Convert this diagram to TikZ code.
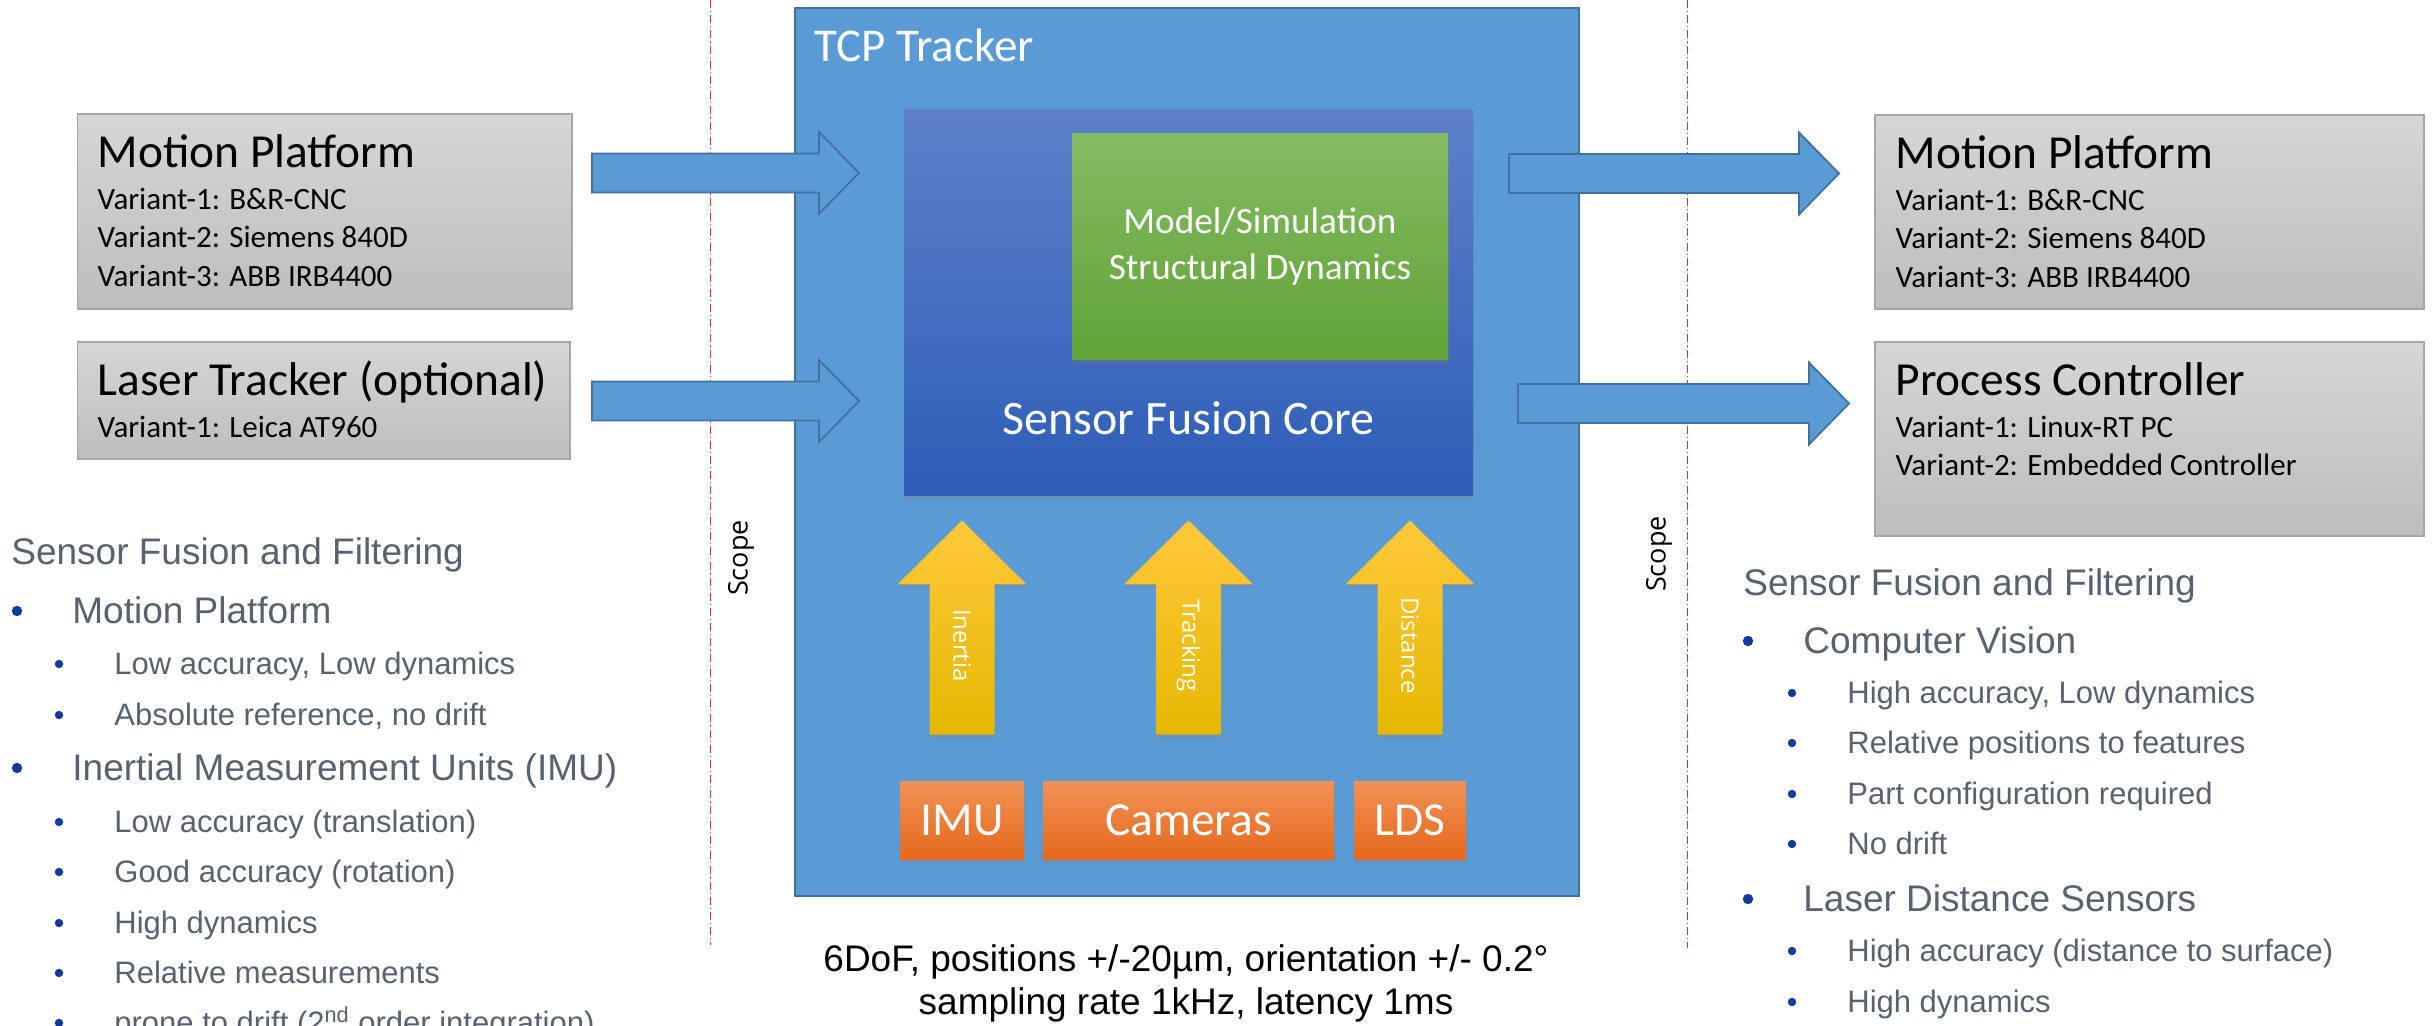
\documentclass[tikz,border=0pt]{standalone}
\usepackage{fontspec}
\setmainfont{Carlito}
\newfontfamily\listfont{Liberation Sans}
\newfontfamily\scopefont{Open Sans}
\usepackage{tikz}
\usetikzlibrary{calc,positioning,shadows}
\definecolor{tcpblue}{RGB}{91,155,213}
\definecolor{tcpedge}{RGB}{65,113,156}
\definecolor{coretop}{RGB}{94,128,201}
\definecolor{corebottom}{RGB}{45,93,183}
\definecolor{modeltop}{RGB}{133,187,99}
\definecolor{modelbottom}{RGB}{97,163,55}
\definecolor{feedtop}{RGB}{255,200,60}
\definecolor{feedbottom}{RGB}{229,184,0}
\definecolor{sensortop}{RGB}{241,146,87}
\definecolor{sensorbottom}{RGB}{229,104,27}
\definecolor{boxtop}{RGB}{214,214,214}
\definecolor{boxbottom}{RGB}{189,189,189}
\definecolor{boxedge}{RGB}{166,166,166}
\definecolor{scopered}{RGB}{222,52,52}
\definecolor{listgray}{RGB}{88,98,110}
\definecolor{bulletblue}{RGB}{18,58,158}

% fat block arrow from #1 to #2 (same height)
\newcommand{\flowarrow}[2]{%
  \draw[flowfill] ($(#1)+(0,-9.75)$) -- ($(#2)+(-20,-9.75)$) -- ($(#2)+(-20,-20.5)$) -- (#2)
    -- ($(#2)+(-20,20.5)$) -- ($(#2)+(-20,9.75)$) -- ($(#1)+(0,9.75)$) -- cycle;}
% upward arrow from sensor #1 towards the core, named #2, label #3
\newcommand{\feedarrow}[3]{%
  \coordinate (#2t) at ($(#1.north)+(0,-23)$);
  \coordinate (#2h) at ($(#2t |- core.south)+(0,12)$);
  \path[feedfill] ($(#2t)+(-16.25,0)$) -- ($(#2h)+(-16.25,32)$) -- ($(#2h)+(-32.25,32)$) -- (#2h)
    -- ($(#2h)+(32.25,32)$) -- ($(#2h)+(16.25,32)$) -- ($(#2t)+(16.25,0)$) -- cycle;
  \node[feedlabel] (#2) at ($(#2h)+(0,62.5)$) {#3};}

\begin{document}
\begin{tikzpicture}[x=1pt,y=-1pt,
  softshadow/.style={drop shadow={shadow xshift=0.4pt,shadow yshift=-1.8pt,opacity=0.3}},
  graybox/.style={draw=boxedge,line width=0.8pt,top color=boxtop,bottom color=boxbottom,inner sep=0pt},
  boxtitle/.style={anchor=base west,inner sep=0pt,font=\fontsize{23.7}{28}\selectfont},
  variant/.style={anchor=base west,inner sep=0pt,font=\fontsize{15.5}{19}\selectfont},
  flowfill/.style={fill=tcpblue,draw=tcpedge,line width=0.9pt},
  feedfill/.style={top color=feedtop,bottom color=feedbottom,softshadow},
  feedlabel/.style={rotate=-90,text=white,inner sep=0pt,font=\scopefont\fontsize{12}{14}\selectfont},
  sensor/.style={top color=sensortop,bottom color=sensorbottom,softshadow,text=white,
    minimum height=39pt,inner sep=0pt,font=\fontsize{23.7}{28}\selectfont},
  scopeline/.style={draw=scopered,line width=0.5pt,dash pattern=on 4pt off 1.5pt on 0.6pt off 1.5pt},
  scopelabel/.style={rotate=90,inner sep=0pt,font=\scopefont\fontsize{13.5}{16}\selectfont},
  listhead/.style={anchor=base west,inner sep=0pt,text=listgray,font=\listfont\fontsize{18.5}{22}\selectfont},
  topic/.style={listhead},
  detail/.style={anchor=base west,inner sep=0pt,text=listgray,font=\listfont\fontsize{15.5}{19}\selectfont}]
  \useasboundingbox (0,0) rectangle (1216,513);

  % scope borders
  \coordinate (scopeLa) at (355,0);   \coordinate (scopeLb) at (355,472.5);
  \coordinate (scopeRa) at (843.5,0); \coordinate (scopeRb) at (843.5,474);
  \draw[scopeline] (scopeLa) -- (scopeLb);
  \draw[scopeline] (scopeRa) -- (scopeRb);
  \node[scopelabel] (scopeL) at (370.5,279) {Scope};
  \node[scopelabel] (scopeR) at (829.5,277) {Scope};

  % inputs
  \node[graybox,minimum width=247.25pt,minimum height=97.5pt] (mpin) at (162.4,105.75) {};
  \node[boxtitle] (mpinT) at ($(mpin.north west)+(10.25,27)$) {Motion Platform};
  \node[variant] (mpin1) at ($(mpin.north west)+(10.25,48)$) {Variant-1: B\&R-CNC};
  \node[variant] (mpin2) at ($(mpin.north west)+(10.25,67.25)$) {Variant-2: Siemens 840D};
  \node[variant] (mpin3) at ($(mpin.north west)+(10.25,86.5)$) {Variant-3: ABB IRB4400};
  \node[graybox,minimum width=246.25pt,minimum height=58.5pt] (ltin) at (161.9,200.25) {};
  \node[boxtitle] (ltinT) at ($(ltin.north west)+(10.25,27)$) {Laser Tracker (optional)};
  \node[variant] (ltin1) at ($(ltin.north west)+(10.25,48)$) {Variant-1: Leica AT960};

  % outputs
  \node[graybox,minimum width=274.5pt,minimum height=97pt] (mpout) at (1074.75,106) {};
  \node[boxtitle] (mpoutT) at ($(mpout.north west)+(10.5,27)$) {Motion Platform};
  \node[variant] (mpout1) at ($(mpout.north west)+(10.5,48)$) {Variant-1: B\&R-CNC};
  \node[variant] (mpout2) at ($(mpout.north west)+(10.5,67.25)$) {Variant-2: Siemens 840D};
  \node[variant] (mpout3) at ($(mpout.north west)+(10.5,86.5)$) {Variant-3: ABB IRB4400};
  \node[graybox,minimum width=274.5pt,minimum height=97pt] (pcout) at (1074.75,219.5) {};
  \node[boxtitle] (pcoutT) at ($(pcout.north west)+(10.5,27)$) {Process Controller};
  \node[variant] (pcout1) at ($(pcout.north west)+(10.5,48)$) {Variant-1: Linux-RT PC};
  \node[variant] (pcout2) at ($(pcout.north west)+(10.5,67.25)$) {Variant-2: Embedded Controller};

  % tracker
  \node[fill=tcpblue,draw=tcpedge,line width=0.8pt,minimum width=392pt,minimum height=444pt] (tcp) at (593.5,226) {};
  \node[anchor=base west,inner sep=0pt,text=white,font=\fontsize{23.5}{28}\selectfont] (tcpT)
    at ($(tcp.north west)+(10,27.25)$) {TCP Tracker};
  \node[top color=coretop,bottom color=corebottom,softshadow,minimum width=284.5pt,minimum height=193pt] (core)
    at (594.25,151.5) {};
  \node[top color=modeltop,bottom color=modelbottom,softshadow,minimum width=188pt,minimum height=113pt,
    text=white,align=center,font=\fontsize{18.6}{23}\selectfont] (model) at (630,123.5)
    {Model/Simulation\\Structural Dynamics};
  \node[anchor=base,inner sep=0pt,text=white,font=\fontsize{24}{28}\selectfont] (coreT)
    at ($(core.south)+(0,-31)$) {Sensor Fusion Core};

  % block arrows
  \coordinate (mpinA) at (296,86.5);    \coordinate (mpinB) at (429.5,86.5);
  \coordinate (ltinA) at (296,200.5);   \coordinate (ltinB) at (429.5,200.5);
  \coordinate (mpoutA) at (754.5,86.75); \coordinate (mpoutB) at (919.5,86.75);
  \coordinate (pcoutA) at (759,201.75);  \coordinate (pcoutB) at (924.5,201.75);
  \flowarrow{mpinA}{mpinB}
  \flowarrow{ltinA}{ltinB}
  \flowarrow{mpoutA}{mpoutB}
  \flowarrow{pcoutA}{pcoutB}

  % sensors
  \node[sensor,minimum width=62pt] (imu) at (481,410) {IMU};
  \node[sensor,minimum width=145.5pt] (cams) at (594.25,410) {Cameras};
  \node[sensor,minimum width=56pt] (lds) at (705,410) {LDS};
  \feedarrow{imu}{inertia}{Inertia}
  \feedarrow{cams}{tracking}{Tracking}
  \feedarrow{lds}{distance}{Distance}

  % specification
  \node[anchor=base,inner sep=0pt,font=\listfont\fontsize{18.5}{22}\selectfont] (spec1) at (593,485.5)
    {6DoF, positions +/-20µm, orientation +/- 0.2°};
  \node[anchor=base,inner sep=0pt,font=\listfont\fontsize{18.5}{22}\selectfont] (spec2) at (593,507)
    {sampling rate 1kHz, latency 1ms};

  % left list
  \node[listhead] (lhead) at (5.5,282.5) {Sensor Fusion and Filtering};
  \node[topic] (lmp) at (36,311.5) {Motion Platform};
  \node[detail] (lmp1) at (57,337) {Low accuracy, Low dynamics};
  \node[detail] (lmp2) at (57,362.5) {Absolute reference, no drift};
  \node[topic] (limu) at (36,390) {Inertial Measurement Units (IMU)};
  \node[detail] (limu1) at (57,416) {Low accuracy (translation)};
  \node[detail] (limu2) at (57,441) {Good accuracy (rotation)};
  \node[detail] (limu3) at (57,466.5) {High dynamics};
  \node[detail] (limu4) at (57,491.5) {Relative measurements};
  \node[detail] (limu5) at (57,516.5) {prone to drift (2\textsuperscript{nd} order integration)};

  % right list
  \node[listhead] (rhead) at (871.5,298) {Sensor Fusion and Filtering};
  \node[topic] (rcv) at (901.5,326.5) {Computer Vision};
  \node[detail] (rcv1) at (923.5,351.5) {High accuracy, Low dynamics};
  \node[detail] (rcv2) at (923.5,376.5) {Relative positions to features};
  \node[detail] (rcv3) at (923.5,402) {Part configuration required};
  \node[detail] (rcv4) at (923.5,427) {No drift};
  \node[topic] (rlds) at (901.5,455.5) {Laser Distance Sensors};
  \node[detail] (rlds1) at (923.5,480.5) {High accuracy (distance to surface)};
  \node[detail] (rlds2) at (923.5,506) {High dynamics};

  \foreach \n in {lmp,limu,rcv,rlds}
    \fill[bulletblue] ($(\n.base west)+(-27.5,-6)$) circle (2.6pt);
  \foreach \n in {lmp1,lmp2,limu1,limu2,limu3,limu4,limu5,rcv1,rcv2,rcv3,rcv4,rlds1,rlds2}
    \fill[bulletblue] ($(\n.base west)+(-27.5,-5)$) circle (2.1pt);
\end{tikzpicture}
\end{document}
